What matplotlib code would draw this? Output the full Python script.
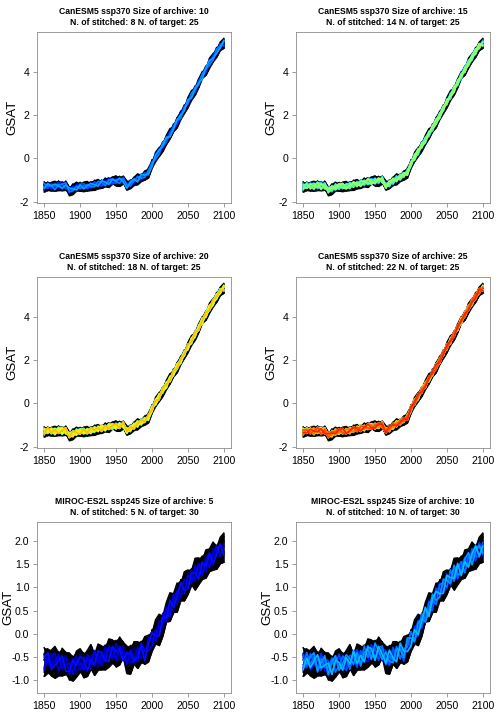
import numpy as np
import matplotlib
matplotlib.use("Agg")
import matplotlib.pyplot as plt

plt.rcParams['font.family'] = ['Liberation Sans', 'DejaVu Sans']

# years sampled every 5 years
years = np.arange(1850, 2101, 5)

# ensemble mean
can_mean = [
    -1.30, -1.25, -1.28, -1.30, -1.22, -1.28, -1.25, -1.48, -1.38, -1.32,
    -1.30, -1.28, -1.30, -1.25, -1.20, -1.18, -1.15, -1.12, -1.08, -1.05,
    -1.05, -1.02, -1.00, -1.25, -1.15, -1.05, -0.95, -0.85, -0.78, -0.65,
    -0.25, 0.05, 0.32, 0.60, 0.85, 1.12, 1.40, 1.68, 1.98, 2.28,
    2.58, 2.88, 3.18, 3.48, 3.78, 4.08, 4.38, 4.65, 4.92, 5.15,
    5.30]

mir_mean = [
    -0.60, -0.58, -0.62, -0.60, -0.63, -0.60, -0.62, -0.75, -0.68, -0.65,
    -0.63, -0.62, -0.62, -0.58, -0.55, -0.52, -0.50, -0.46, -0.43, -0.40,
    -0.38, -0.40, -0.42, -0.55, -0.52, -0.48, -0.45, -0.38, -0.40, -0.28,
    -0.10, 0.00, 0.10, 0.25, 0.40, 0.55, 0.68, 0.80, 0.92, 1.02,
    1.11, 1.20, 1.28, 1.35, 1.42, 1.50, 1.57, 1.64, 1.71, 1.78,
    1.84]

# CanESM5 stitched member deviations from the mean
can_stitched = [
    [0.12, -0.08, 0.15, -0.10, 0.05, 0.18, -0.12, 0.02, -0.15, 0.10,
     0.06, -0.04, 0.14, -0.11, 0.08, -0.02, 0.16, -0.09, 0.03, 0.11,
     -0.13, 0.07, -0.05, 0.12, -0.08, 0.04, 0.15, -0.12, 0.09, -0.03,
     0.13, -0.10, 0.06, 0.01, -0.14, 0.10, -0.06, 0.14, -0.02, 0.08,
     -0.11, 0.12, -0.07, 0.05, 0.16, -0.09, 0.03, -0.12, 0.10, -0.04,
     0.08],
    [-0.10, 0.14, -0.05, 0.09, -0.16, 0.03, 0.11, -0.08, 0.13, -0.02,
     -0.12, 0.10, -0.06, 0.15, -0.03, 0.07, -0.14, 0.12, -0.09, 0.04,
     0.10, -0.11, 0.16, -0.04, 0.08, -0.13, 0.02, 0.11, -0.07, 0.14,
     -0.05, 0.09, -0.15, 0.12, 0.03, -0.08, 0.13, -0.10, 0.06, -0.03,
     0.15, -0.06, 0.09, -0.12, 0.04, 0.11, -0.08, 0.14, -0.02, 0.07,
     -0.09],
    [0.05, -0.13, 0.08, 0.16, -0.07, -0.12, 0.10, 0.04, -0.09, 0.15,
     -0.06, 0.11, 0.02, -0.14, 0.13, -0.05, 0.07, 0.10, -0.12, -0.03,
     0.14, -0.08, 0.05, 0.09, -0.15, 0.12, -0.04, 0.06, 0.13, -0.10,
     0.02, 0.15, -0.09, -0.04, 0.11, 0.07, -0.13, 0.04, 0.12, -0.08,
     0.06, -0.14, 0.10, 0.03, -0.07, 0.13, 0.08, -0.11, 0.05, 0.14,
     -0.06],
    [-0.14, 0.07, -0.02, -0.11, 0.13, 0.06, -0.05, 0.14, 0.09, -0.12,
     0.03, -0.09, 0.12, 0.07, -0.13, 0.10, -0.03, -0.08, 0.15, 0.05,
     -0.06, 0.13, -0.12, 0.02, 0.11, -0.05, 0.09, -0.14, 0.04, 0.08,
     -0.11, 0.05, 0.12, -0.13, 0.07, -0.02, 0.10, -0.07, -0.12, 0.13,
     0.02, 0.08, -0.10, 0.14, -0.05, -0.03, 0.12, 0.06, -0.13, 0.09,
     0.03],
    [0.08, 0.02, -0.12, 0.06, 0.11, -0.15, 0.05, -0.10, 0.07, 0.03,
     0.14, -0.07, -0.10, 0.04, 0.09, -0.12, 0.11, 0.05, -0.04, -0.14,
     0.06, 0.02, 0.12, -0.09, -0.03, 0.14, -0.10, 0.08, -0.06, 0.03,
     0.10, -0.13, 0.01, 0.09, -0.06, 0.13, -0.04, -0.11, 0.07, 0.12,
     -0.08, 0.04, 0.13, -0.06, 0.10, -0.12, -0.02, 0.09, 0.13, -0.10,
     0.05],
    [-0.04, -0.11, 0.10, 0.02, -0.08, 0.12, -0.15, 0.09, 0.01, -0.06,
     0.10, 0.13, -0.08, -0.02, 0.11, 0.04, -0.12, 0.02, 0.12, -0.07,
     -0.09, 0.10, 0.01, -0.12, 0.13, 0.06, -0.07, -0.03, 0.12, -0.13,
     0.07, 0.03, 0.11, -0.07, -0.10, 0.02, 0.09, 0.13, -0.09, -0.04,
     0.11, -0.03, -0.13, 0.08, 0.02, 0.07, -0.11, 0.01, -0.07, 0.12,
     -0.12],
    [0.15, -0.02, 0.04, -0.14, 0.01, 0.09, 0.13, -0.06, -0.11, 0.05,
     -0.09, 0.02, 0.09, -0.06, -0.10, 0.13, 0.05, -0.14, 0.07, 0.12,
     -0.02, -0.13, 0.09, 0.06, -0.11, 0.01, 0.12, -0.06, -0.09, 0.10,
     0.04, -0.07, -0.12, 0.14, 0.05, -0.11, 0.03, 0.08, -0.14, 0.06,
     -0.05, 0.13, 0.02, -0.10, 0.12, 0.03, -0.06, -0.13, 0.11, 0.02,
     0.10],
    [-0.07, 0.10, 0.01, 0.12, -0.04, -0.09, 0.03, 0.11, -0.02, -0.13,
     0.08, -0.12, 0.04, 0.10, -0.01, -0.09, 0.13, 0.02, -0.11, 0.09,
     0.03, 0.11, -0.07, -0.11, 0.05, 0.10, -0.13, 0.12, 0.01, -0.06,
     -0.12, 0.11, 0.06, -0.02, 0.13, -0.12, -0.05, 0.10, 0.03, -0.09,
     0.12, -0.10, 0.05, -0.01, -0.12, 0.09, 0.13, -0.04, -0.08, -0.06,
     0.13],
]

# CanESM5 target member deviations (black)
can_target = [
    [0.22, -0.05, 0.18, 0.25, -0.02, 0.20, 0.08, -0.04, 0.16, 0.23,
     0.01, 0.19, 0.24, -0.03, 0.17, 0.21, 0.05, 0.22, -0.01, 0.18,
     0.25, 0.03, 0.19, 0.22, -0.02, 0.17, 0.24, 0.06, 0.20, 0.15,
     -0.03, 0.23, 0.18, 0.02, 0.21, 0.25, 0.04, 0.19, 0.16, -0.01,
     0.22, 0.24, 0.05, 0.18, 0.21, 0.00, 0.23, 0.17, 0.06, 0.20,
     0.22],
    [-0.24, -0.10, -0.21, 0.02, -0.25, -0.18, -0.06, -0.23, -0.27, -0.03,
     -0.20, -0.24, -0.08, -0.19, -0.26, 0.01, -0.22, -0.17, -0.25, -0.05,
     -0.21, -0.26, -0.09, -0.18, -0.23, -0.02, -0.25, -0.20, -0.07, -0.24,
     -0.19, -0.04, -0.22, -0.27, -0.10, -0.21, -0.16, -0.25, -0.03, -0.20,
     -0.23, -0.08, -0.26, -0.18, -0.05, -0.24, -0.21, -0.11, -0.25, -0.17,
     -0.22],
    [-0.02, 0.17, -0.15, -0.20, 0.12, -0.06, 0.21, 0.14, -0.18, 0.04,
     0.20, -0.14, -0.02, 0.18, 0.09, -0.21, 0.03, 0.15, 0.19, -0.12,
     -0.04, 0.20, -0.17, 0.08, 0.16, -0.19, 0.01, 0.13, -0.15, 0.21,
     0.11, -0.18, 0.06, 0.17, -0.20, 0.02, 0.19, -0.14, 0.10, 0.18,
     -0.16, 0.05, 0.15, -0.21, 0.12, 0.17, -0.10, 0.04, 0.19, -0.15,
     0.06],
    [0.10, -0.22, 0.04, -0.08, 0.19, -0.20, -0.13, 0.06, 0.21, -0.17,
     -0.09, 0.07, -0.19, 0.12, -0.05, 0.15, -0.18, -0.11, 0.08, 0.20,
     -0.16, 0.09, -0.03, -0.20, 0.13, 0.05, -0.17, -0.12, 0.18, -0.06,
     0.19, -0.09, -0.20, 0.08, 0.15, -0.14, -0.07, 0.20, -0.18, 0.03,
     0.07, -0.19, -0.11, 0.16, -0.08, -0.15, 0.14, -0.20, 0.02, 0.11,
     -0.17],
    [-0.18, 0.09, -0.07, 0.14, -0.12, 0.05, -0.21, 0.18, -0.06, -0.09,
     0.15, -0.02, 0.10, -0.22, 0.20, -0.08, 0.11, -0.04, -0.15, 0.13,
     0.07, -0.18, 0.12, -0.10, 0.05, 0.19, -0.11, -0.03, -0.21, 0.16,
     -0.08, 0.13, -0.02, -0.16, 0.04, 0.18, -0.13, -0.04, 0.20, -0.12,
     -0.01, 0.14, -0.17, -0.03, 0.19, -0.06, -0.14, 0.12, -0.10, 0.17,
     -0.04],
]

# MIROC-ES2L stitched member deviations
mir_stitched = [
    [0.15, -0.12, 0.20, -0.05, 0.10, -0.18, 0.08, 0.17, -0.14, 0.03,
     0.19, -0.09, -0.16, 0.12, 0.05, -0.20, 0.14, -0.03, 0.18, -0.11,
     0.07, -0.17, 0.13, 0.02, -0.15, 0.19, -0.06, 0.10, -0.19, 0.16,
     -0.08, 0.04, 0.18, -0.13, 0.09, -0.02, -0.18, 0.15, 0.06, -0.12,
     0.17, -0.07, 0.11, -0.16, 0.02, 0.14, -0.10, 0.19, -0.04, -0.14,
     0.12],
    [-0.13, 0.18, -0.04, 0.11, -0.19, 0.07, -0.10, 0.02, 0.16, -0.17,
     -0.05, 0.13, 0.09, -0.18, 0.17, 0.01, -0.12, 0.20, -0.08, 0.06,
     -0.14, 0.10, 0.16, -0.11, 0.04, -0.09, 0.18, -0.16, 0.08, -0.01,
     0.15, -0.14, -0.06, 0.19, -0.10, 0.12, 0.03, -0.17, 0.14, 0.07,
     -0.11, 0.18, -0.15, 0.05, 0.13, -0.19, 0.08, -0.02, 0.16, 0.09,
     -0.13],
    [0.04, -0.07, 0.13, 0.19, -0.16, -0.03, 0.15, -0.12, 0.07, 0.18,
     -0.15, -0.02, 0.17, 0.05, -0.10, 0.12, -0.19, 0.06, 0.10, -0.15,
     0.18, 0.03, -0.13, 0.16, -0.07, -0.14, 0.12, 0.05, -0.11, 0.19,
     0.01, -0.17, 0.13, 0.08, -0.15, -0.06, 0.17, -0.09, -0.13, 0.15,
     0.04, -0.12, 0.19, -0.08, -0.13, 0.10, 0.17, -0.16, 0.06, 0.12,
     -0.09],
    [-0.17, 0.06, -0.11, 0.02, 0.18, -0.13, -0.05, 0.12, -0.19, 0.09,
     0.01, -0.16, 0.11, -0.07, 0.19, -0.12, 0.04, -0.14, 0.15, 0.08,
     -0.19, 0.13, -0.02, -0.08, 0.17, -0.04, -0.15, 0.18, 0.03, -0.10,
     -0.16, 0.09, -0.12, 0.02, 0.17, -0.18, 0.07, 0.11, -0.06, -0.15,
     0.14, 0.01, -0.09, 0.16, -0.17, 0.05, -0.14, 0.08, 0.18, -0.11,
     0.04],
    [0.10, 0.17, -0.15, -0.08, 0.05, 0.13, -0.18, -0.06, 0.11, -0.03,
     0.14, 0.08, -0.18, 0.02, -0.13, 0.16, 0.09, -0.10, -0.17, 0.13,
     -0.01, 0.07, -0.16, 0.14, 0.10, -0.12, -0.03, 0.15, -0.17, 0.06,
     0.12, -0.04, -0.15, 0.10, -0.07, 0.17, -0.11, 0.02, 0.18, -0.09,
     -0.14, 0.09, 0.03, -0.18, 0.11, -0.05, 0.16, -0.12, -0.01, 0.15,
     -0.16],
    [-0.06, -0.15, 0.09, 0.14, -0.12, 0.18, -0.02, -0.15, 0.05, 0.12,
     -0.11, 0.16, -0.04, -0.12, 0.08, 0.18, -0.15, 0.03, -0.06, 0.17,
     -0.12, -0.04, 0.11, 0.19, -0.14, 0.07, 0.15, -0.11, -0.02, 0.13,
     -0.18, 0.16, 0.05, -0.09, 0.12, -0.14, -0.03, 0.18, -0.10, 0.07,
     0.16, -0.15, 0.04, 0.12, -0.06, -0.17, 0.10, 0.05, -0.15, 0.18,
     -0.02],
]

# MIROC-ES2L target member deviations (black)
mir_target = [
    [0.30, 0.12, 0.27, 0.33, 0.08, 0.29, 0.21, 0.34, 0.10, 0.28,
     0.31, 0.14, 0.26, 0.35, 0.09, 0.30, 0.24, 0.11, 0.32, 0.27,
     0.13, 0.33, 0.22, 0.29, 0.07, 0.31, 0.28, 0.15, 0.34, 0.25,
     0.10, 0.30, 0.32, 0.12, 0.27, 0.33, 0.18, 0.29, 0.09, 0.31,
     0.26, 0.14, 0.34, 0.28, 0.11, 0.30, 0.25, 0.33, 0.13, 0.29,
     0.32],
    [-0.31, -0.14, -0.28, -0.35, -0.09, -0.30, -0.25, -0.12, -0.33, -0.27,
     -0.08, -0.32, -0.29, -0.15, -0.34, -0.22, -0.10, -0.31, -0.28, -0.13,
     -0.33, -0.26, -0.07, -0.30, -0.34, -0.16, -0.29, -0.24, -0.11, -0.32,
     -0.27, -0.09, -0.35, -0.30, -0.14, -0.28, -0.22, -0.33, -0.10, -0.31,
     -0.26, -0.12, -0.34, -0.29, -0.16, -0.30, -0.23, -0.08, -0.32, -0.27,
     -0.30],
    [0.05, 0.26, -0.20, 0.14, -0.27, 0.09, 0.23, -0.15, 0.02, -0.24,
     0.19, -0.06, 0.25, -0.18, 0.11, -0.26, 0.07, 0.22, -0.13, -0.02,
     0.24, -0.21, 0.16, -0.05, 0.27, -0.17, 0.03, 0.20, -0.25, 0.12,
     -0.08, 0.23, -0.19, 0.14, -0.01, 0.26, -0.22, 0.06, 0.18, -0.16,
     0.21, -0.04, -0.23, 0.15, 0.25, -0.10, 0.08, -0.27, 0.19, 0.02,
     0.24],
    [-0.22, 0.08, 0.16, -0.12, 0.24, -0.19, 0.03, 0.12, -0.26, 0.17,
     -0.11, 0.21, -0.03, 0.06, -0.21, 0.17, -0.27, 0.01, 0.14, -0.23,
     0.09, -0.12, 0.25, -0.18, 0.05, 0.13, -0.24, 0.22, -0.04, -0.15,
     0.19, -0.22, 0.10, -0.06, 0.21, -0.11, 0.03, -0.25, 0.24, 0.07,
     -0.18, 0.20, -0.09, -0.04, 0.16, -0.24, 0.13, 0.02, -0.21, 0.18,
     -0.08],
    [0.18, -0.26, -0.03, 0.22, -0.14, -0.08, 0.16, -0.24, 0.20, 0.04,
     -0.19, 0.10, -0.23, 0.24, 0.00, -0.09, 0.19, -0.16, -0.05, 0.22,
     -0.25, 0.14, -0.07, 0.09, -0.20, 0.24, -0.12, -0.03, 0.15, -0.22,
     0.08, 0.18, -0.04, -0.24, 0.20, -0.05, 0.12, -0.14, -0.21, 0.23,
     -0.02, -0.16, 0.21, 0.07, -0.25, 0.15, -0.03, 0.20, -0.13, -0.09,
     0.16],
]

models = {
    "CanESM5": dict(scen="ssp370", mean=can_mean, stitched=can_stitched,
                    target=can_target, yticks=[-2, 0, 2, 4], ylim=(-2.05, 5.82),
                    fmt="{:g}", labx=-0.095),
    "MIROC-ES2L": dict(scen="ssp245", mean=mir_mean, stitched=mir_stitched,
                       target=mir_target, yticks=[-1.0, -0.5, 0.0, 0.5, 1.0, 1.5, 2.0],
                       ylim=(-1.27, 2.40), fmt="{:.1f}", labx=-0.118),
}

# panel: model, archive size, n stitched, n target
panels = [
    ("CanESM5", 10, 8, 25),
    ("CanESM5", 15, 14, 25),
    ("CanESM5", 20, 18, 25),
    ("CanESM5", 25, 22, 25),
    ("MIROC-ES2L", 5, 5, 30),
    ("MIROC-ES2L", 10, 10, 30),
]

W, H = 500, 713
fig = plt.figure(figsize=(W / 100, H / 100), dpi=100)

col_left = [37, 296]
row_top = [32, 277, 522]
box_w, box_h = 194, 171
grey = "#8c8c8c"

for i, (name, archive, n_st, n_tg) in enumerate(panels):
    m = models[name]
    r, c = divmod(i, 2)
    ax = fig.add_axes([col_left[c] / W, 1 - (row_top[r] + box_h) / H, box_w / W, box_h / H])

    mean = np.array(m["mean"])
    tg = np.array([mean + np.array(d) for d in m["target"]])
    ax.fill_between(years, tg.min(axis=0), tg.max(axis=0), color="black", lw=0.5, zorder=1)
    for y in tg:
        ax.plot(years, y, color="black", lw=1.1, zorder=1)

    colors = plt.cm.jet(np.linspace(0, 1, n_tg))
    devs = m["stitched"]
    for k in range(n_st):
        ax.plot(years, mean + np.array(devs[k % len(devs)]), color=colors[k], lw=1.2, zorder=2)

    ax.set_xlim(1840, 2110)
    ax.set_ylim(*m["ylim"])
    ax.set_xticks([1850, 1900, 1950, 2000, 2050, 2100])
    ax.set_yticks(m["yticks"])
    ax.set_yticklabels([m["fmt"].format(v) for v in m["yticks"]])
    ax.tick_params(direction="out", length=3, width=0.6, color=grey, labelsize=7.6, pad=2.5)
    for s in ax.spines.values():
        s.set_color(grey)
        s.set_linewidth(0.6)

    ax.set_ylabel("GSAT", fontsize=9.6)
    ax.yaxis.set_label_coords(m["labx"], 0.5)
    ax.set_title("{} {} Size of archive: {}\nN. of stitched: {} N. of target: {}".format(
        name, m["scen"], archive, n_st, n_tg),
        fontsize=6.2, fontweight="bold", pad=5, linespacing=1.35)

fig.savefig("out.png", dpi=100)
